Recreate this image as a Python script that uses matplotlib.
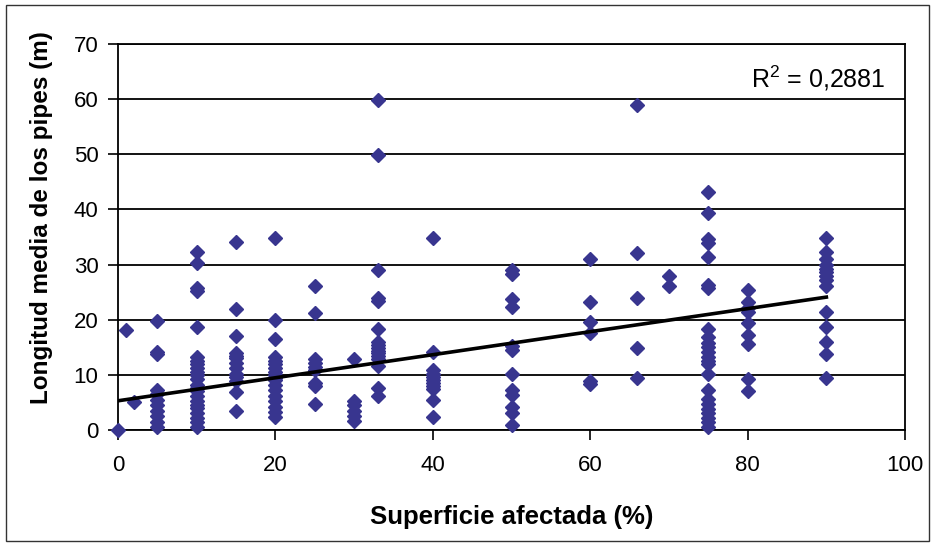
import numpy as np
import matplotlib
matplotlib.use("Agg")
import matplotlib.pyplot as plt
from matplotlib.patches import Rectangle

# ---- data ----
x_levels = [0, 1, 2, 5, 10, 15, 20, 25, 30, 33, 40, 50, 60, 66, 70, 75, 80, 90]
y_x0 = [0]
y_x1 = [18.2]
y_x2 = [5.0]
y_x5 = [19.7, 14.2, 13.8, 7.3, 6.5, 5.5, 4.5, 3.5, 2.5, 1.5, 0.6]
y_x10 = [32.2, 30.2, 25.7, 25.2, 18.6, 13.2, 12.6, 12.0, 11.2, 10.6, 10.0, 9.2,
         8.2, 7.6, 7.0, 6.2, 5.2, 4.6, 4.0, 3.0, 2.2, 1.5, 0.6]
y_x15 = [34.1, 22.0, 17.0, 14.0, 13.5, 13.0, 12.2, 11.2, 10.2, 9.6, 8.8, 6.9, 3.5]
y_x20 = [34.8, 19.9, 16.5, 13.2, 12.6, 12.0, 11.2, 10.6, 10.0, 9.5, 9.0, 8.2,
         7.2, 6.2, 5.2, 4.2, 3.2, 2.4]
y_x25 = [26.1, 21.2, 12.8, 12.1, 11.5, 10.9, 8.5, 8.0, 4.8]
y_x30 = [12.9, 5.2, 4.5, 3.5, 2.6, 1.7]
y_x33 = [59.9, 49.9, 29.1, 24.0, 23.4, 18.3, 16.0, 15.4, 14.9, 14.4, 13.9,
         13.4, 12.8, 11.6, 7.6, 6.2]
y_x40 = [34.8, 14.1, 10.8, 10.2, 9.6, 9.0, 8.5, 7.9, 7.4, 5.5, 2.3]
y_x50 = [29.0, 28.3, 23.8, 22.3, 15.2, 14.5, 10.2, 7.2, 6.4, 4.1, 3.1, 0.9]
y_x60 = [31.1, 23.2, 19.6, 17.6, 8.8, 8.3]
y_x66 = [58.9, 32.1, 24.0, 14.9, 9.5]
y_x70 = [28.0, 26.1]
y_x75 = [43.2, 39.3, 34.7, 34.0, 31.3, 26.3, 25.8, 18.3, 16.8, 15.8, 15.0,
         14.2, 13.2, 12.6, 12.0, 10.2, 7.2, 5.7, 4.8, 3.8, 3.0, 2.2, 1.4, 0.6]
y_x80 = [25.4, 23.2, 22.2, 21.4, 19.4, 17.2, 15.6, 9.2, 7.0]
y_x90 = [34.8, 32.2, 31.0, 30.0, 29.2, 28.6, 28.0, 27.2, 26.2, 21.4, 18.6,
         16.0, 13.8, 9.4]
y_groups = [y_x0, y_x1, y_x2, y_x5, y_x10, y_x15, y_x20, y_x25, y_x30, y_x33,
            y_x40, y_x50, y_x60, y_x66, y_x70, y_x75, y_x80, y_x90]

# linear trend line as drawn in the reference (endpoints)
trend_x = [0, 90]
trend_y = [5.3, 24.1]

r2_label = "R$^2$ = 0,2881"
x_ticks = [0, 20, 40, 60, 80, 100]
y_ticks = [0, 10, 20, 30, 40, 50, 60, 70]
x_title = "Superficie afectada (%)"
y_title = "Longitud media de los pipes (m)"

xs = np.concatenate([[xv] * len(g) for xv, g in zip(x_levels, y_groups)])
ys = np.concatenate(y_groups)

plt.rcParams['font.family'] = ['Liberation Sans', 'DejaVu Sans']
plt.rcParams['mathtext.fontset'] = 'custom'
plt.rcParams['mathtext.rm'] = 'Liberation Sans'

fig = plt.figure(figsize=(9.35, 5.48), dpi=100)
fig.patch.set_facecolor('white')
# outer frame
fig.add_artist(Rectangle((0.006, 0.012), 0.988, 0.979, transform=fig.transFigure,
                         fill=False, edgecolor='#333333', linewidth=1.0))

ax = fig.add_axes([0.1262, 0.2153, 0.8418, 0.7044])
ax.set_xlim(0, 100)
ax.set_ylim(0, 70)
ax.set_xticks(x_ticks)
ax.set_yticks(y_ticks)
ax.tick_params(axis='both', direction='out', length=7, width=1.2, labelsize=16,
               colors='black')
ax.tick_params(axis='y', pad=7)
ax.tick_params(axis='x', pad=11)
for s in ax.spines.values():
    s.set_linewidth(1.3)
    s.set_color('black')
ax.yaxis.grid(True, color='black', linewidth=1.3)
ax.set_axisbelow(True)

ax.plot(xs, ys, linestyle='none', marker='D', markersize=7,
        markerfacecolor='#38358F', markeredgecolor='#38358F', clip_on=False, zorder=3)

ax.plot(trend_x, trend_y, color='black', linewidth=2.6, zorder=4)

ax.text(97.5, 63.8, r2_label, ha='right', va='center', fontsize=18)

ax.set_xlabel(x_title, fontsize=18.5, fontweight='bold')
ax.set_ylabel(y_title, fontsize=17.5, fontweight='bold')
ax.xaxis.set_label_coords(0.5, -0.195)
ax.yaxis.set_label_coords(-0.082, 0.55)

fig.savefig('out.png', dpi=100)
